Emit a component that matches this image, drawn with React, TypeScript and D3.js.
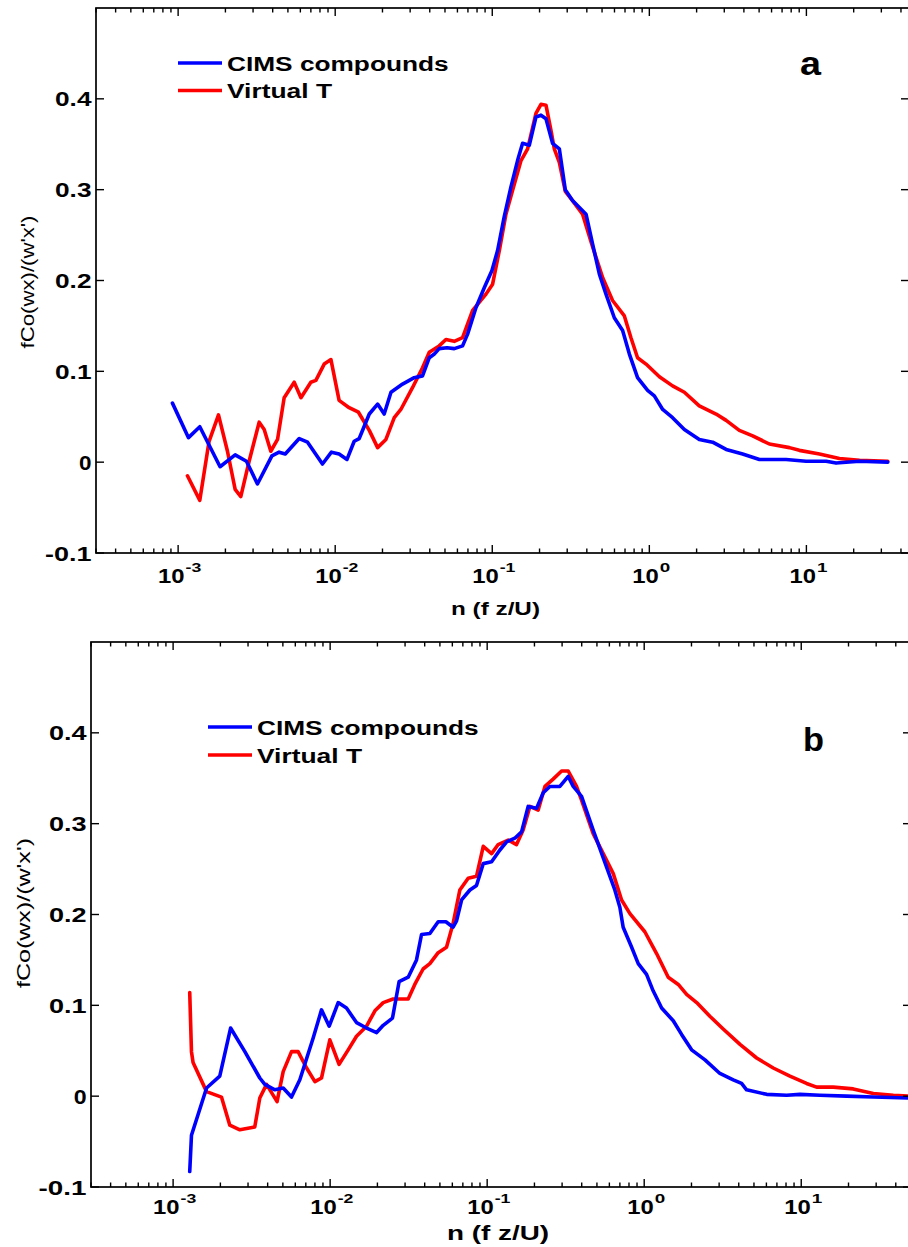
import React from 'react';
import * as d3 from 'd3';

const W = 908;
const H = 1247;

// ---------- Panel a data ----------
const aCimsN = [9.20e-4, 1.164e-3, 1.374e-3, 1.849e-3, 2.307e-3, 2.723e-3, 3.199e-3, 3.954e-3, 4.395e-3, 4.808e-3, 5.902e-3, 6.668e-3, 8.299e-3, 9.462e-3, 1.059e-2, 1.189e-2, 1.321e-2, 1.422e-2, 1.648e-2, 1.862e-2, 2.051e-2, 2.265e-2, 2.685e-2, 3.184e-2, 3.597e-2, 3.972e-2, 4.276e-2, 4.592e-2, 5.15e-2, 5.728e-2, 6.471e-2, 6.966e-2, 7.870e-2, 8.892e-2, 9.954e-2, 0.1081, 0.1191, 0.1315, 0.1449, 0.1560, 0.1722, 0.1897, 0.2042, 0.2198, 0.2421, 0.2673, 0.2917, 0.3243, 0.3954, 0.4355, 0.4808, 0.5297, 0.5984, 0.6761, 0.7464, 0.8414, 0.9750, 1.076, 1.216, 1.406, 1.671, 2.080, 2.529, 3.083, 3.926, 5.023, 7.430, 9.954, 13.36, 15.45, 21.78, 32.96];
const aCimsV = [0.065, 0.027, 0.039, -0.005, 0.008, 0.001, -0.024, 0.007, 0.011, 0.009, 0.026, 0.022, -0.002, 0.011, 0.009, 0.003, 0.023, 0.026, 0.053, 0.064, 0.053, 0.077, 0.086, 0.093, 0.095, 0.115, 0.119, 0.125, 0.126, 0.125, 0.128, 0.141, 0.170, 0.192, 0.211, 0.233, 0.270, 0.303, 0.332, 0.351, 0.349, 0.380, 0.382, 0.378, 0.351, 0.345, 0.300, 0.288, 0.273, 0.240, 0.207, 0.185, 0.159, 0.145, 0.119, 0.093, 0.079, 0.073, 0.058, 0.049, 0.036, 0.025, 0.022, 0.014, 0.009, 0.003, 0.003, 0.001, 0.001, -0.001, 0.001, 0.0];

const aVirtN = [1.146e-3, 1.374e-3, 1.574e-3, 1.807e-3, 2.061e-3, 2.307e-3, 2.506e-3, 2.831e-3, 3.281e-3, 3.532e-3, 3.890e-3, 4.295e-3, 4.732e-3, 5.483e-3, 6.053e-3, 6.998e-3, 7.534e-3, 8.511e-3, 9.397e-3, 1.059e-2, 1.227e-2, 1.406e-2, 1.648e-2, 1.862e-2, 2.104e-2, 2.377e-2, 2.618e-2, 3.105e-2, 3.597e-2, 3.972e-2, 4.592e-2, 5.070e-2, 5.728e-2, 6.471e-2, 7.499e-2, 9.120e-2, 0.1005, 0.1109, 0.1222, 0.1346, 0.1524, 0.1679, 0.1897, 0.2042, 0.2198, 0.2366, 0.2483, 0.2673, 0.2917, 0.3243, 0.3758, 0.4355, 0.5047, 0.5834, 0.6934, 0.7638, 0.8414, 0.9528, 1.159, 1.406, 1.671, 2.080, 2.661, 3.083, 3.741, 4.550, 5.808, 7.798, 9.016, 12.11, 16.22, 21.78, 32.96];
const aVirtV = [-0.015, -0.042, 0.023, 0.052, 0.012, -0.030, -0.038, 0.001, 0.044, 0.036, 0.012, 0.025, 0.071, 0.088, 0.071, 0.088, 0.090, 0.108, 0.113, 0.068, 0.060, 0.055, 0.035, 0.016, 0.025, 0.049, 0.058, 0.082, 0.104, 0.121, 0.128, 0.135, 0.133, 0.137, 0.167, 0.185, 0.196, 0.233, 0.273, 0.299, 0.332, 0.345, 0.384, 0.394, 0.393, 0.365, 0.345, 0.330, 0.298, 0.288, 0.273, 0.237, 0.203, 0.178, 0.161, 0.137, 0.115, 0.108, 0.094, 0.084, 0.077, 0.062, 0.053, 0.046, 0.035, 0.029, 0.020, 0.016, 0.013, 0.009, 0.004, 0.002, 0.001];

// ---------- Panel b data ----------
const bCimsN = [1.276e-3, 1.309e-3, 1.633e-3, 1.982e-3, 2.323e-3, 2.864e-3, 3.565e-3, 3.837e-3, 4.446e-3, 5.023e-3, 5.675e-3, 6.412e-3, 7.798e-3, 8.810e-3, 9.863e-3, 1.125e-2, 1.271e-2, 1.472e-2, 1.706e-2, 1.977e-2, 2.178e-2, 2.495e-2, 2.748e-2, 3.141e-2, 3.548e-2, 3.819e-2, 4.315e-2, 4.875e-2, 5.458e-2, 6.067e-2, 6.383e-2, 6.871e-2, 7.762e-2, 8.551e-2, 9.441e-2, 0.1067, 0.1205, 0.1330, 0.1500, 0.1656, 0.1824, 0.2065, 0.2275, 0.2506, 0.2904, 0.3281, 0.3532, 0.3990, 0.4732, 0.5768, 0.6501, 0.6998, 0.7345, 0.8318, 0.9162, 1.035, 1.140, 1.291, 1.531, 1.730, 2.004, 2.438, 3.034, 3.690, 4.169, 4.487, 6.026, 8.072, 9.817, 13.15, 19.45, 28.77, 47.86];
const bCimsV = [-0.083, -0.043, 0.009, 0.022, 0.075, 0.049, 0.020, 0.013, 0.007, 0.009, -0.001, 0.018, 0.064, 0.095, 0.077, 0.103, 0.097, 0.081, 0.075, 0.070, 0.078, 0.086, 0.126, 0.131, 0.150, 0.178, 0.179, 0.192, 0.192, 0.186, 0.193, 0.216, 0.227, 0.232, 0.256, 0.258, 0.271, 0.280, 0.284, 0.291, 0.319, 0.317, 0.334, 0.341, 0.341, 0.352, 0.341, 0.330, 0.293, 0.252, 0.227, 0.208, 0.186, 0.164, 0.146, 0.134, 0.116, 0.097, 0.083, 0.068, 0.051, 0.040, 0.025, 0.018, 0.014, 0.007, 0.002, 0.001, 0.002, 0.001, 0.000, -0.001, -0.002];

const bVirtN = [1.276e-3, 1.309e-3, 1.340e-3, 1.633e-3, 2.032e-3, 2.296e-3, 2.661e-3, 3.311e-3, 3.565e-3, 3.936e-3, 4.592e-3, 5.023e-3, 5.675e-3, 6.252e-3, 7.079e-3, 7.998e-3, 8.810e-3, 9.954e-3, 1.140e-2, 1.303e-2, 1.472e-2, 1.706e-2, 1.928e-2, 2.178e-2, 2.518e-2, 3.141e-2, 3.459e-2, 3.908e-2, 4.315e-2, 4.875e-2, 5.508e-2, 6.067e-2, 6.699e-2, 7.568e-2, 8.551e-2, 9.441e-2, 0.1067, 0.1175, 0.1361, 0.1538, 0.1694, 0.1871, 0.2113, 0.2333, 0.2630, 0.2979, 0.3281, 0.3707, 0.3990, 0.4732, 0.5483, 0.6353, 0.7178, 0.8110, 1.009, 1.199, 1.422, 1.648, 1.862, 2.158, 2.618, 3.184, 4.074, 5.200, 6.637, 8.472, 10.81, 12.53, 16.00, 21.43, 28.77, 38.55, 47.86];
const bVirtV = [0.114, 0.049, 0.037, 0.005, -0.001, -0.032, -0.037, -0.034, -0.002, 0.013, -0.006, 0.027, 0.049, 0.049, 0.031, 0.016, 0.020, 0.062, 0.035, 0.051, 0.066, 0.077, 0.094, 0.103, 0.107, 0.107, 0.123, 0.140, 0.146, 0.158, 0.164, 0.190, 0.227, 0.240, 0.242, 0.275, 0.267, 0.277, 0.282, 0.277, 0.293, 0.319, 0.315, 0.341, 0.349, 0.358, 0.358, 0.341, 0.326, 0.289, 0.267, 0.245, 0.216, 0.201, 0.181, 0.157, 0.131, 0.123, 0.112, 0.103, 0.088, 0.074, 0.057, 0.042, 0.031, 0.022, 0.014, 0.010, 0.010, 0.008, 0.003, 0.001, 0.000];

// ---------- Axis / labels ----------
const yTicks = [-0.1, 0, 0.1, 0.2, 0.3, 0.4];
const yTickLabels = ['-0.1', '0', '0.1', '0.2', '0.3', '0.4'];
const xTickExps = [-3, -2, -1, 0, 1];
const seriesNames = ['CIMS compounds', 'Virtual T'];
const panelLetters = ['a', 'b'];
const xLabel = 'n (f z/U)';
const yLabel = "fCo(wx)/(w'x')";

const BLUE = '#0000ff';
const RED = '#ff0000';
const FONT = "'Liberation Sans', Arial, Helvetica, sans-serif";

type Layout = {
  left: number; right: number; top: number; bottom: number;
  xMin: number; xMax: number;
  yTickRight: number; yTickScale: number;
  xTickBase: number;
  legX1: number; legX2: number; legY: number[]; legTextX: number;
  letterX: number; letterY: number;
  xLabX: number; xLabY: number; xLabLen: number; xLabSize: number;
  yLabX: number; yLabCy: number; yLabLen: number;
};

const layoutA: Layout = {
  left: 96, right: 909, top: 8, bottom: 553, xMin: 3e-4, xMax: 45,
  yTickRight: 91.5, yTickScale: 1, xTickBase: 583,
  legX1: 178, legX2: 222, legY: [63, 90.5], legTextX: 227,
  letterX: 800, letterY: 75,
  xLabX: 451, xLabY: 615, xLabLen: 89, xLabSize: 19,
  yLabX: 34, yLabCy: 282, yLabLen: 133,
};

const layoutB: Layout = {
  left: 91, right: 911, top: 642, bottom: 1187, xMin: 3e-4, xMax: 50,
  yTickRight: 86.5, yTickScale: 1.03, xTickBase: 1214,
  legX1: 208, legX2: 252, legY: [727, 755], legTextX: 257,
  letterX: 803, letterY: 751,
  xLabX: 447, xLabY: 1240, xLabLen: 102, xLabSize: 20,
  yLabX: 30, yLabCy: 913, yLabLen: 150,
};

function yLabelWidth(s: string): number {
  if (s === '0') return 12.5;
  if (s.startsWith('-')) return 46.5;
  return 36.5;
}

function Panel({ L, cimsN, cimsV, virtN, virtV, letter }: {
  L: Layout; cimsN: number[]; cimsV: number[]; virtN: number[]; virtV: number[]; letter: string;
}) {
  const x = d3.scaleLog().domain([L.xMin, L.xMax]).range([L.left, L.right]);
  const y = d3.scaleLinear().domain([-0.1, 0.5]).range([L.bottom, L.top]);
  const line = d3.line<[number, number]>().x(d => x(d[0])).y(d => y(d[1]));
  const cims = line(cimsN.map((n, i) => [n, cimsV[i]] as [number, number])) || '';
  const virt = line(virtN.map((n, i) => [n, virtV[i]] as [number, number])) || '';

  const minor: number[] = [];
  const major: number[] = [];
  for (let e = -4; e <= 2; e++) {
    for (let m = 1; m <= 9; m++) {
      const v = m * Math.pow(10, e);
      if (v < L.xMin * 0.999 || v > L.xMax * 1.001) continue;
      if (m === 1) major.push(v); else minor.push(v);
    }
  }
  const MAJ = 8, MIN = 4.5;
  const axisColor = '#000';

  return (
    <g>
      <path d={virt} fill="none" stroke={RED} strokeWidth={3.6} strokeLinejoin="round" strokeLinecap="round" />
      <path d={cims} fill="none" stroke={BLUE} strokeWidth={3.6} strokeLinejoin="round" strokeLinecap="round" />

      <rect x={L.left} y={L.top} width={L.right - L.left} height={L.bottom - L.top} fill="none" stroke={axisColor} strokeWidth={1.7} />

      {major.map((v, i) => (
        <g key={'M' + i}>
          <line x1={x(v)} x2={x(v)} y1={L.bottom} y2={L.bottom - MAJ} stroke={axisColor} strokeWidth={1.4} />
          <line x1={x(v)} x2={x(v)} y1={L.top} y2={L.top + MAJ} stroke={axisColor} strokeWidth={1.4} />
        </g>
      ))}
      {minor.map((v, i) => (
        <g key={'m' + i}>
          <line x1={x(v)} x2={x(v)} y1={L.bottom} y2={L.bottom - MIN} stroke={axisColor} strokeWidth={1.4} />
          <line x1={x(v)} x2={x(v)} y1={L.top} y2={L.top + MIN} stroke={axisColor} strokeWidth={1.4} />
        </g>
      ))}

      {yTicks.map((t, i) => (
        <g key={'y' + i}>
          <line x1={L.left} x2={L.left + MAJ} y1={y(t)} y2={y(t)} stroke={axisColor} strokeWidth={1.4} />
          <line x1={L.right} x2={L.right - MAJ} y1={y(t)} y2={y(t)} stroke={axisColor} strokeWidth={1.4} />
          <text
            x={L.yTickRight - yLabelWidth(yTickLabels[i]) * L.yTickScale}
            y={y(t) + 7.5}
            fontFamily={FONT} fontWeight="bold" fontSize={20.5}
            textLength={yLabelWidth(yTickLabels[i]) * L.yTickScale}
            lengthAdjust="spacingAndGlyphs"
          >{yTickLabels[i]}</text>
        </g>
      ))}

      {xTickExps.map((e, i) => {
        const px = x(Math.pow(10, e));
        const two = String(e).length > 1;
        const start = px - (two ? 20 : 17);
        const expW = two ? 15.7 : 10.5;
        return (
          <g key={'xl' + i}>
            <text x={start} y={L.xTickBase} fontFamily={FONT} fontWeight="bold" fontSize={20.5}
              textLength={26.5} lengthAdjust="spacingAndGlyphs">10</text>
            <text x={start + 27.5} y={L.xTickBase - 11.5} fontFamily={FONT} fontWeight="bold" fontSize={12.5}
              textLength={expW} lengthAdjust="spacingAndGlyphs">{String(e)}</text>
          </g>
        );
      })}

      <text x={L.xLabX} y={L.xLabY} fontFamily={FONT} fontWeight="bold" fontSize={L.xLabSize}
        textLength={L.xLabLen} lengthAdjust="spacingAndGlyphs">{xLabel}</text>
      <text transform={`translate(${L.yLabX},${L.yLabCy}) rotate(-90)`} x={-L.yLabLen / 2} y={0}
        fontFamily={FONT} fontSize={18.5} textLength={L.yLabLen} lengthAdjust="spacingAndGlyphs">{yLabel}</text>

      {[BLUE, RED].map((c, i) => (
        <g key={'lg' + i}>
          <line x1={L.legX1} x2={L.legX2} y1={L.legY[i]} y2={L.legY[i]} stroke={c} strokeWidth={3.6} />
          <text x={L.legTextX} y={L.legY[i] + 7.5} fontFamily={FONT} fontWeight="bold" fontSize={20}
            textLength={i === 0 ? 221.6 : 105} lengthAdjust="spacingAndGlyphs">{seriesNames[i]}</text>
        </g>
      ))}

      <text x={L.letterX} y={L.letterY} fontFamily={FONT} fontWeight="bold" fontSize={34}
        textLength={21} lengthAdjust="spacingAndGlyphs">{letter}</text>
    </g>
  );
}

export default function App() {
  return (
    <svg width={W} height={H} viewBox={`0 0 ${W} ${H}`}
      style={{ position: 'absolute', left: 0, top: 0, display: 'block', background: '#fff' }}>
      <rect x={0} y={0} width={W} height={H} fill="#fff" />
      <Panel L={layoutA} cimsN={aCimsN} cimsV={aCimsV} virtN={aVirtN} virtV={aVirtV} letter={panelLetters[0]} />
      <Panel L={layoutB} cimsN={bCimsN} cimsV={bCimsV} virtN={bVirtN} virtV={bVirtV} letter={panelLetters[1]} />
    </svg>
  );
}
